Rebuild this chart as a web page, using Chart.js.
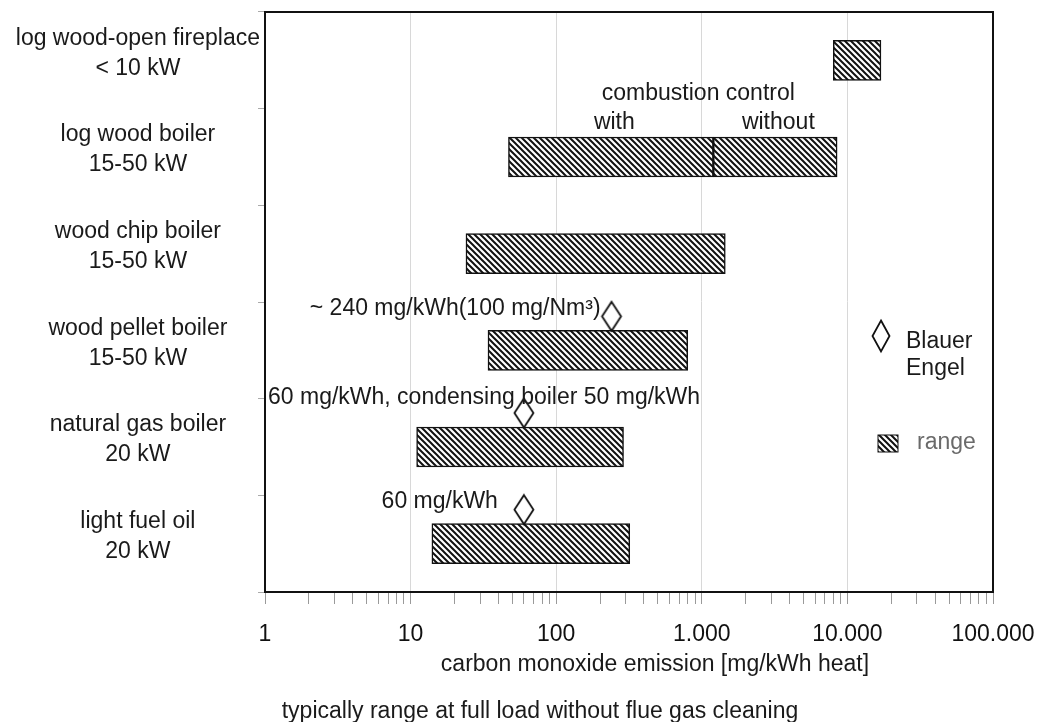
<!DOCTYPE html>
<html>
<head>
<meta charset="utf-8">
<script src="https://cdn.jsdelivr.net/npm/chart.js@4.4.1/dist/chart.umd.min.js"></script>
<style>
  html, body { margin: 0; padding: 0; background: #fff; }
  #wrap { width: 1046px; height: 722px; }
</style>
</head>
<body>
<div id="wrap"><canvas id="chart" width="1046" height="722"></canvas></div>
<script>
// categories, shown as two-line labels
const categories = ['log wood-open fireplace', 'log wood boiler', 'wood chip boiler', 'wood pellet boiler', 'natural gas boiler', 'light fuel oil'];
const capacities = ['< 10 kW', '15-50 kW', '15-50 kW', '15-50 kW', '20 kW', '20 kW'];

// typical CO range [mg/kWh heat]
const rangeMin = [8000, 47, 24, 34, 11, 14];
const rangeMax = [17000, 8500, 1450, 800, 290, 320];
// log wood boiler: with / without combustion control
const controlSplit = [null, 1200, null, null, null, null];

// Blauer Engel limit values
const blauerEngel = [null, null, null, 240, 60, 60];

const tickValues = [1, 10, 100, 1000, 10000, 100000];
const tickLabels = ['1', '10', '100', '1.000', '10.000', '100.000'];

const FONT = '"Liberation Sans", Arial, Helvetica, sans-serif';
const TEXT = '#1a1a1a';

const ctx = document.getElementById('chart').getContext('2d');

// diagonal hatch fill
function makeHatch(size) {
    const c = document.createElement('canvas');
    c.width = size; c.height = size;
    const g = c.getContext('2d');
    g.fillStyle = '#fff';
    g.fillRect(0, 0, size, size);
    g.strokeStyle = '#111';
    g.lineWidth = 2;
    g.beginPath();
    g.moveTo(-1, -1); g.lineTo(size + 1, size + 1);
    g.moveTo(-1, size - 1); g.lineTo(1, size + 1);
    g.moveTo(size - 1, -1); g.lineTo(size + 1, 1);
    g.stroke();
    return ctx.createPattern(c, 'repeat');
}
const hatch = makeHatch(6);

function drawDiamond(g, cx, cy, w, h) {
    g.beginPath();
    g.moveTo(cx, cy - h / 2);
    g.lineTo(cx + w / 2, cy);
    g.lineTo(cx, cy + h / 2);
    g.lineTo(cx - w / 2, cy);
    g.closePath();
    g.fillStyle = '#fff';
    g.fill();
    g.lineWidth = 1.8;
    g.strokeStyle = '#111';
    g.stroke();
}

// point image: diamond sits just above the bar (lifted from the category centre)
function makeDiamondStyle(w, h, lift) {
    const c = document.createElement('canvas');
    c.width = w + 5;
    c.height = 2 * (lift + h / 2) + 4;
    drawDiamond(c.getContext('2d'), c.width / 2, c.height / 2 - lift, w, h);
    return c;
}
const diamondStyle = makeDiamondStyle(19, 29, 34);

const labels = categories.map((c, i) => [c, capacities[i]]);

const annotations = {
    id: 'annotations',
    afterDatasetsDraw(chart) {
        const g = chart.ctx;
        const x = chart.scales.x, y = chart.scales.y;
        const a = chart.chartArea;
        g.save();

        // frame
        g.strokeStyle = '#111';
        g.lineWidth = 2;
        g.strokeRect(a.left, a.top, a.right - a.left, a.bottom - a.top);

        g.font = '23px ' + FONT;
        g.fillStyle = TEXT;
        g.textBaseline = 'middle';

        // combustion control
        const sx = x.getPixelForValue(controlSplit[1]);
        const yc = y.getPixelForValue(1);
        g.textAlign = 'center';
        g.fillText('combustion control', sx - 15, yc - 63);
        g.fillText('with', sx - 99, yc - 34);
        g.fillText('without', sx + 65, yc - 34);

        // Blauer Engel notes
        g.textAlign = 'right';
        g.fillText('~ 240 mg/kWh(100 mg/Nm\u00b3)', x.getPixelForValue(blauerEngel[3]) - 11, y.getPixelForValue(3) - 42);
        g.fillText('60 mg/kWh', x.getPixelForValue(blauerEngel[5]) - 26, y.getPixelForValue(5) - 42);
        g.textAlign = 'left';
        g.fillText('60 mg/kWh, condensing boiler 50 mg/kWh', a.left + 3, y.getPixelForValue(4) - 49);

        // legend
        drawDiamond(g, a.right - 112, 336, 17, 31);
        g.fillStyle = TEXT;
        g.fillText('Blauer', a.right - 87, 342);
        g.fillText('Engel', a.right - 87, 369);
        g.fillStyle = hatch;
        g.fillRect(a.right - 115, 435, 20, 17);
        g.lineWidth = 1;
        g.strokeStyle = '#111';
        g.strokeRect(a.right - 115, 435, 20, 17);
        g.fillStyle = '#6a6a6a';
        g.fillText('range', a.right - 76, 443);

        // axis title and note
        g.fillStyle = TEXT;
        g.textAlign = 'center';
        g.fillText('carbon monoxide emission [mg/kWh heat]', 655, 665);
        g.fillText('typically range at full load without flue gas cleaning', 540, 712);
        g.restore();
    }
};

new Chart(ctx, {
    type: 'bar',
    data: {
        labels: labels,
        datasets: [
            {
                label: 'range',
                data: categories.map((c, i) => [rangeMin[i], controlSplit[i] || rangeMax[i]]),
                backgroundColor: hatch,
                borderColor: '#111',
                borderWidth: 1.5,
                borderSkipped: false,
                barThickness: 40,
                grouped: false,
                order: 2
            },
            {
                label: 'without combustion control',
                data: categories.map((c, i) => controlSplit[i] ? [controlSplit[i], rangeMax[i]] : null),
                backgroundColor: hatch,
                borderColor: '#111',
                borderWidth: 1.5,
                borderSkipped: false,
                barThickness: 40,
                grouped: false,
                order: 1
            },
            {
                type: 'scatter',
                label: 'Blauer Engel',
                data: categories.map((c, i) => ({ x: blauerEngel[i], y: i })),
                pointStyle: diamondStyle,
                pointRadius: 3,
                order: 0
            }
        ]
    },
    options: {
        indexAxis: 'y',
        responsive: false,
        animation: false,
        layout: { padding: { top: 12, right: 53, bottom: 0, left: 0 } },
        plugins: {
            legend: { display: false },
            tooltip: { enabled: false }
        },
        scales: {
            x: {
                type: 'logarithmic',
                min: 1,
                max: 100000,
                afterBuildTicks(scale) {
                    const t = [];
                    tickValues.forEach((v, k) => {
                        if (k === tickValues.length - 1) { t.push({ value: v }); return; }
                        for (let m = 1; m < 10; m++) t.push({ value: v * m });
                    });
                    scale.ticks = t;
                },
                afterFit(scale) {
                    scale.height = 130;
                    scale.paddingLeft = 0;
                    scale.paddingRight = 0;
                },
                grid: {
                    color: c => c.tick && tickValues.includes(c.tick.value) ? '#d8d8d8' : 'rgba(0,0,0,0)',
                    tickColor: '#9a9a9a',
                    tickLength: 12
                },
                border: { display: true, color: '#111', width: 2 },
                ticks: {
                    autoSkip: false,
                    maxRotation: 0,
                    padding: 17,
                    color: '#111',
                    font: { family: FONT, size: 23 },
                    callback: v => {
                        const k = tickValues.indexOf(v);
                        return k >= 0 ? tickLabels[k] : '';
                    }
                }
            },
            y: {
                type: 'category',
                afterFit(scale) {
                    scale.width = 265;
                    scale.paddingTop = 0;
                    scale.paddingBottom = 0;
                },
                grid: {
                    drawOnChartArea: false,
                    tickLength: 7,
                    tickColor: '#aaaaaa',
                    offset: true
                },
                border: { display: true, color: '#111', width: 2 },
                ticks: {
                    crossAlign: 'center',
                    padding: -2,
                    labelOffset: -7,
                    color: TEXT,
                    font: { family: FONT, size: 23, lineHeight: 1.3 }
                }
            }
        }
    },
    plugins: [annotations]
});
</script>
</body>
</html>
